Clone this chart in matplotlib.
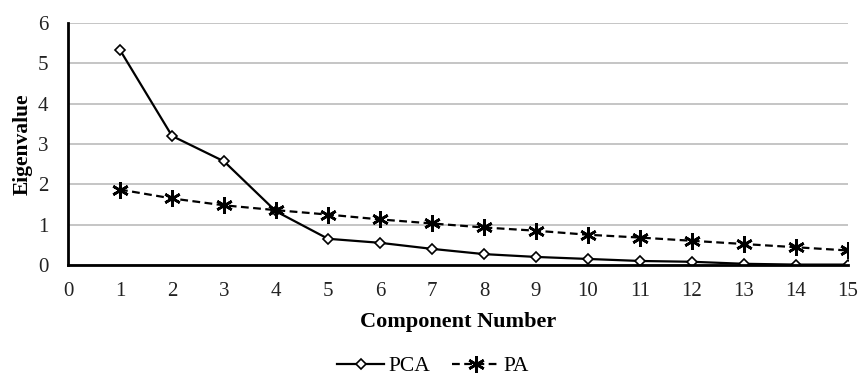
import matplotlib.pyplot as plt
import numpy as np

plt.rcParams['font.family'] = ['Liberation Serif', 'DejaVu Serif']

# data
components = np.arange(1, 16)
pca_eigen = [5.33, 3.2, 2.57, 1.33, 0.65, 0.55, 0.4, 0.27, 0.2, 0.15, 0.1, 0.08, 0.03, 0.01, 0.01]
pa_eigen = [1.87, 1.65, 1.48, 1.36, 1.25, 1.13, 1.03, 0.93, 0.85, 0.75, 0.68, 0.6, 0.52, 0.44, 0.36]

fig = plt.figure(figsize=(8.59, 3.8), dpi=100)
ax = fig.add_axes([68 / 859, 1 - 265 / 380, (848 - 68) / 859, (265 - 23) / 380])

ax.plot(components, pca_eigen, color='black', linewidth=1.6, marker='D', markersize=5,
        markerfacecolor='white', markeredgecolor='black', markeredgewidth=1.2, label='PCA')
ax.plot(components, pa_eigen, color='black', linewidth=1.6, linestyle=(0, (3.5, 2)),
        marker=(6, 2, 0), markersize=12, markeredgewidth=1.9, label='PA')

ax.set_xlim(0, 15)
ax.set_ylim(0, 6)
ax.set_xticks(range(0, 16))
ax.set_yticks(range(0, 7))
ax.tick_params(length=0, labelsize=15, colors='#222222')
ax.tick_params(axis='x', pad=12)
ax.tick_params(axis='y', pad=14)

ax.grid(axis='y', color='#bbbbbb', linewidth=1.2)
ax.set_axisbelow(True)
for side in ['top', 'right']:
    ax.spines[side].set_visible(False)
for side in ['left', 'bottom']:
    ax.spines[side].set_linewidth(2)
    ax.spines[side].set_color('black')

ax.set_xlabel('Component Number', fontsize=16, fontweight='bold', labelpad=8)
ax.set_ylabel('Eigenvalue', fontsize=15.5, fontweight='bold', labelpad=4)

fig.legend(*ax.get_legend_handles_labels(), loc='center', bbox_to_anchor=(433 / 859, 1 - 366 / 380),
           ncol=2, frameon=False, fontsize=15.5, handlelength=2.2, columnspacing=1.0,
           handletextpad=0.2, borderpad=0.2)

fig.savefig('out.png', dpi=100)
